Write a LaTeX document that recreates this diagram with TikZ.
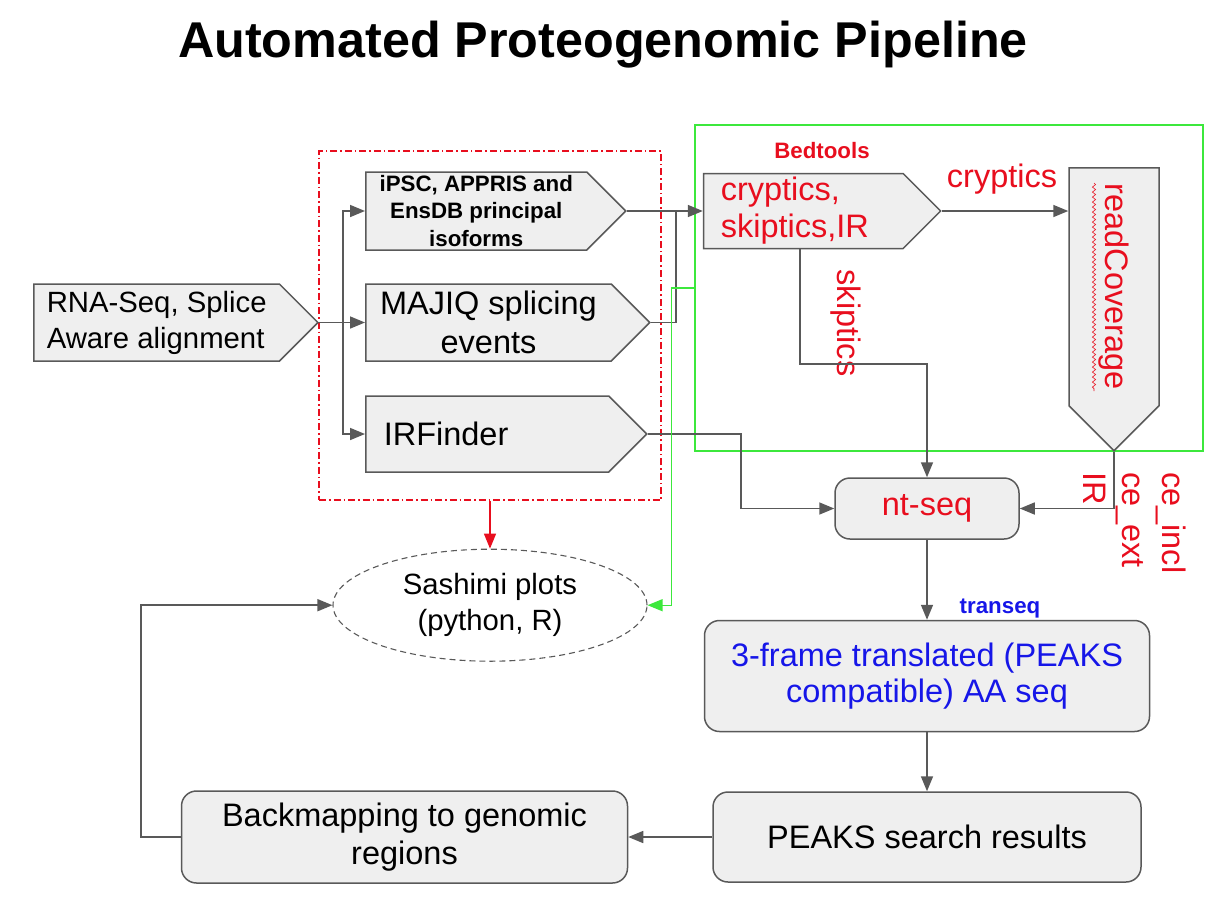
\documentclass[tikz,border=0pt]{standalone}
\usepackage{fontspec}
\setmainfont{Liberation Sans}
\usepackage{tikz}
\usetikzlibrary{shapes,shapes.geometric,shapes.symbols,arrows.meta,positioning,calc,decorations.pathmorphing}

\definecolor{linegray}{RGB}{89,89,89}
\definecolor{boxgray}{RGB}{239,239,239}
\definecolor{toolred}{RGB}{232,14,30}
\definecolor{seqblue}{RGB}{22,22,232}
\definecolor{bedgreen}{RGB}{60,232,60}

\newcommand{\bigfont}{\fontsize{32.5}{38.5}\selectfont}
\newcommand{\midfont}{\fontsize{29.3}{36}\selectfont}
\newcommand{\smallbold}{\fontsize{22.3}{27.5}\selectfont\bfseries}

\begin{document}
\begin{tikzpicture}[
    x=1pt, y=-1pt,
    tool/.style={signal, signal to=east, signal pointer angle=90, draw=linegray, fill=boxgray, line width=1.5pt, inner sep=0pt, font=\bigfont},
    rbox/.style={rectangle, rounded corners=15pt, draw=linegray, fill=boxgray, line width=1.5pt, font=\bigfont, align=center},
    groupbox/.style={rectangle, line width=1.3pt},
    conn/.style={color=linegray, line width=1.6pt, -{Triangle[length=15pt,width=12pt]}},
    wire/.style={color=linegray, line width=1.6pt}
]
    \useasboundingbox (0,0) rectangle (1232,898);

    % Title
    \node[font=\fontsize{50.3}{60}\selectfont\bfseries, anchor=base] (title) at (603,57) {Automated Proteogenomic Pipeline};

    % Groups
    \node[groupbox, draw=toolred, dash pattern=on 7pt off 3pt on 1.5pt off 3pt, minimum width=342pt, minimum height=349pt] (toolbox) at (490,325.5) {};
    \node[groupbox, draw=bedgreen, minimum width=508pt, minimum height=326pt] (bedtools) at (949,288) {};

    % Splicing tools
    \node[tool, anchor=west, minimum width=260pt, minimum height=78pt, font=\smallbold, align=center] (ipsc) at (365,211) {iPSC, APPRIS and\\EnsDB principal\\isoforms};
    \node[tool, anchor=west, minimum width=284pt, minimum height=77pt, align=center] (majiq) at (365,322.5) {MAJIQ splicing\\events};
    \node[tool, anchor=west, minimum width=281pt, minimum height=76pt, text width=207pt, align=left] (irf) at (365,434) {IRFinder};
    \node[tool, left=46pt of majiq, minimum width=284pt, minimum height=77pt, font=\midfont, align=left] (rna) {RNA-Seq, Splice\\Aware alignment};

    % Bedtools
    \node[tool, right=76pt of ipsc, minimum width=237pt, minimum height=75pt, font=\fontsize{32.5}{37}\selectfont, text=toolred, text width=165pt, align=left] (cryptics) {cryptics,\\skiptics,IR};
    \node[tool, rotate=-90, anchor=west, minimum width=283pt, minimum height=90pt, text=toolred, text width=206pt, align=left] (readcov) at (1114,167) {readCoverage};
    \draw[toolred, line width=0.6pt, decorate, decoration={snake, amplitude=1.6pt, segment length=5pt}] (1094,183) -- (1094,391);

    % Sequences
    \node[rbox, minimum width=184pt, minimum height=61pt, text=toolred] (ntseq) at (927,508.5) {nt-seq};
    \node[rbox, below=80pt of ntseq, minimum width=445pt, minimum height=111pt, font=\fontsize{32.5}{36}\selectfont, text=seqblue] (frame) {3-frame translated (PEAKS\\compatible) AA seq};
    \node[rbox, below=59pt of frame, minimum width=428pt, minimum height=90pt] (peaks) {PEAKS search results};
    \node[rbox, left=84pt of peaks, minimum width=446pt, minimum height=92pt] (backmap) {Backmapping to genomic\\regions};
    \node[ellipse, draw=linegray, line width=1.1pt, dash pattern=on 6pt off 4pt, minimum width=314pt, minimum height=112pt, font=\midfont, align=center, below=48pt of toolbox] (sashimi) {Sashimi plots\\(python, R)};

    % Labels
    \node[font=\smallbold, text=toolred, anchor=base] (bedlabel) at (822,158) {Bedtools};
    \node[font=\bigfont, text=toolred, anchor=base] (cryplabel) at (1002,187) {cryptics};
    \node[font=\bigfont, text=toolred, rotate=-90, anchor=base] (skiplabel) at (837,323) {skiptics};
    \node[font=\fontsize{32.5}{39.5}\selectfont, text=toolred, rotate=-90, anchor=north west, align=left, inner sep=0pt] (celabel) at (1186,472) {ce\_incl\\ce\_ext\\IR};
    \node[font=\smallbold, text=seqblue, anchor=base] (translabel) at (1000,613) {transeq};

    % Arrows
    \coordinate (split) at (343,322.5);
    \coordinate (join) at (676,211);
    \coordinate (skipbend) at (800,364);
    \coordinate (irfbend) at (741,434);
    \draw[conn] (rna.east) -- (majiq.west);
    \draw[conn] (split) |- (ipsc.west);
    \draw[conn] (split) |- (irf.west);
    \draw[wire] (majiq.east) -| (join);
    \draw[conn] (ipsc.east) -- (cryptics.west);
    \draw[conn] (cryptics.east) -- (cryptics.east -| readcov.south);
    \draw[conn] (cryptics.south -| skipbend) -- (skipbend) -| (ntseq.north);
    \draw[conn] (irf.east) -- (irfbend) |- (ntseq.west);
    \draw[conn] (readcov.east) |- (ntseq.east);
    \draw[conn] (ntseq) -- (frame);
    \draw[conn] (frame) -- (peaks);
    \draw[conn] (peaks) -- (backmap);
    \draw[conn] (backmap.west) -- ++(-40,0) |- (sashimi.west);
    \draw[conn, color=bedgreen, line width=1.3pt] (bedtools.west) -- ++(-23,0) |- (sashimi.east);
    \draw[conn, color=toolred, line width=1.3pt] (toolbox.south) -- (sashimi.north);
\end{tikzpicture}
\end{document}
